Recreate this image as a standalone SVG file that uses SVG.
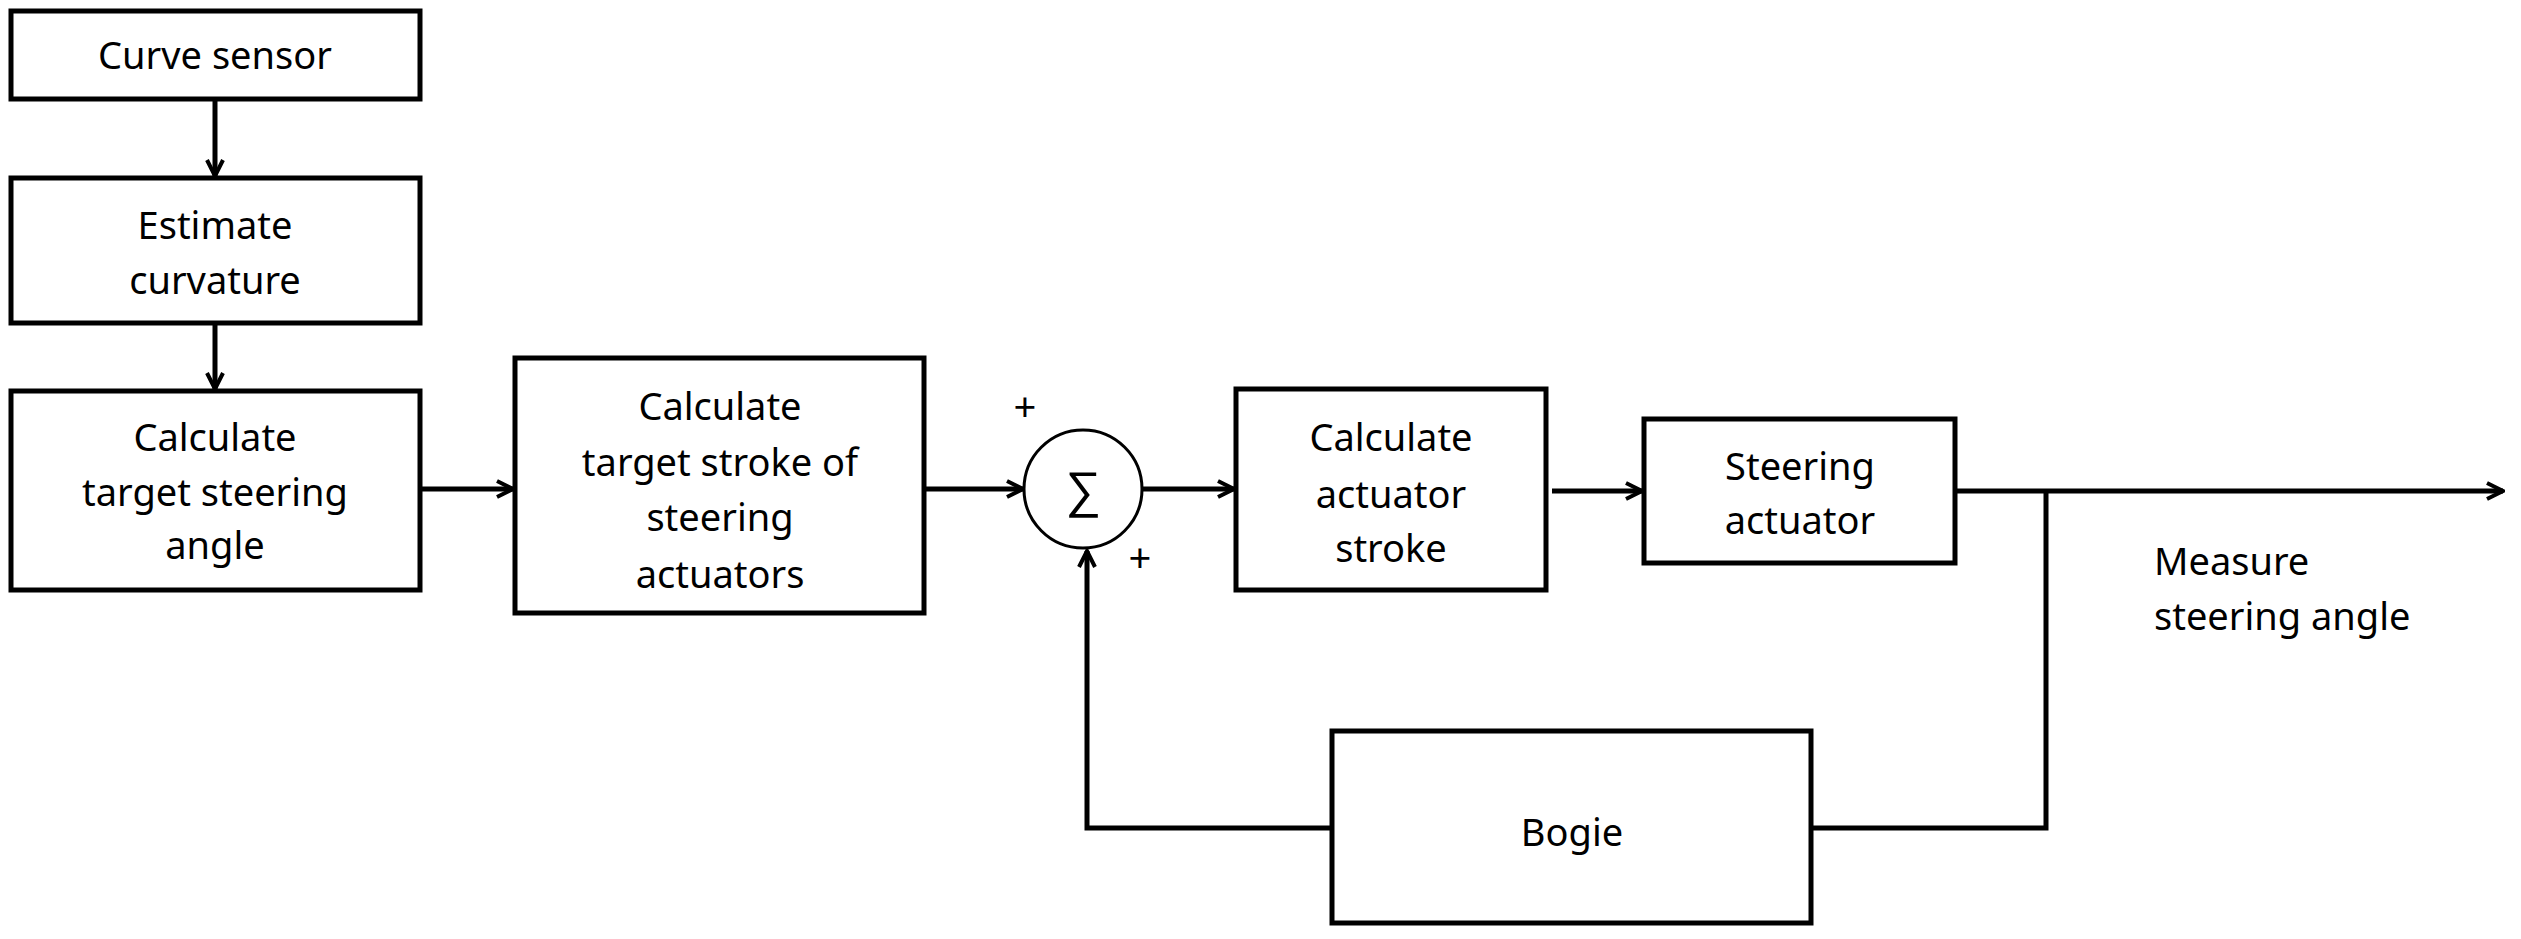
<svg xmlns="http://www.w3.org/2000/svg" width="2521" height="939" viewBox="0 0 2521 939">
<style>
rect{fill:#fff;stroke:#000;stroke-width:5}
text{font-family:"Noto Sans","Liberation Sans",sans-serif;font-size:38px;text-anchor:middle;fill:#000}
.c path,.c line,.c polyline{fill:none;stroke:#000;stroke-width:5}
</style>
<defs><marker id="a" viewBox="0 0 20 20" refX="18" refY="10" markerWidth="20" markerHeight="20" markerUnits="userSpaceOnUse" orient="auto"><path d="M2,2 L18,10 L2,18" fill="none" stroke="#000" stroke-width="4"/></marker></defs>
<g class="c">
<line x1="215" y1="99" x2="215" y2="176" marker-end="url(#a)"/>
<line x1="215" y1="323" x2="215" y2="389" marker-end="url(#a)"/>
<line x1="420" y1="489" x2="513" y2="489" marker-end="url(#a)"/>
<line x1="924" y1="489" x2="1023" y2="489" marker-end="url(#a)"/>
<line x1="1143" y1="489" x2="1234" y2="489" marker-end="url(#a)"/>
<line x1="1552" y1="491" x2="1642" y2="491" marker-end="url(#a)"/>
<line x1="1955" y1="491" x2="2503" y2="491" marker-end="url(#a)"/>
<polyline points="2046,491 2046,828 1811,828"/>
<polyline points="1332,828 1087,828 1087,551" marker-end="url(#a)"/>
</g>
<g id="n1"><rect x="11" y="11" width="409" height="88"/><text x="215" y="69">Curve sensor</text></g>
<g id="n2"><rect x="11" y="178" width="409" height="145"/><text x="215" y="239">Estimate</text><text x="215" y="294">curvature</text></g>
<g id="n3"><rect x="11" y="391" width="409" height="199"/><text x="215" y="451">Calculate</text><text x="215" y="506">target steering</text><text x="215" y="559">angle</text></g>
<g id="n4"><rect x="515" y="358" width="409" height="255"/><text x="720" y="420">Calculate</text><text x="720" y="476">target stroke of</text><text x="720" y="531">steering</text><text x="720" y="588">actuators</text></g>
<g id="sum"><circle cx="1083" cy="489" r="59" fill="#fff" stroke="#000" stroke-width="3"/><text x="1083" y="507" style="font-size:50px">∑</text><text x="1025" y="421" style="font-size:40px">+</text><text x="1140" y="572" style="font-size:40px">+</text></g>
<g id="n5"><rect x="1236" y="389" width="310" height="201"/><text x="1391" y="451">Calculate</text><text x="1391" y="508">actuator</text><text x="1391" y="562">stroke</text></g>
<g id="n6"><rect x="1644" y="419" width="311" height="144"/><text x="1800" y="480">Steering</text><text x="1800" y="534">actuator</text></g>
<g id="n7"><rect x="1332" y="731" width="479" height="192"/><text x="1572" y="846">Bogie</text></g>
<g id="lbl"><text x="2154" y="575" style="text-anchor:start">Measure</text><text x="2154" y="630" style="text-anchor:start">steering angle</text></g>
</svg>
